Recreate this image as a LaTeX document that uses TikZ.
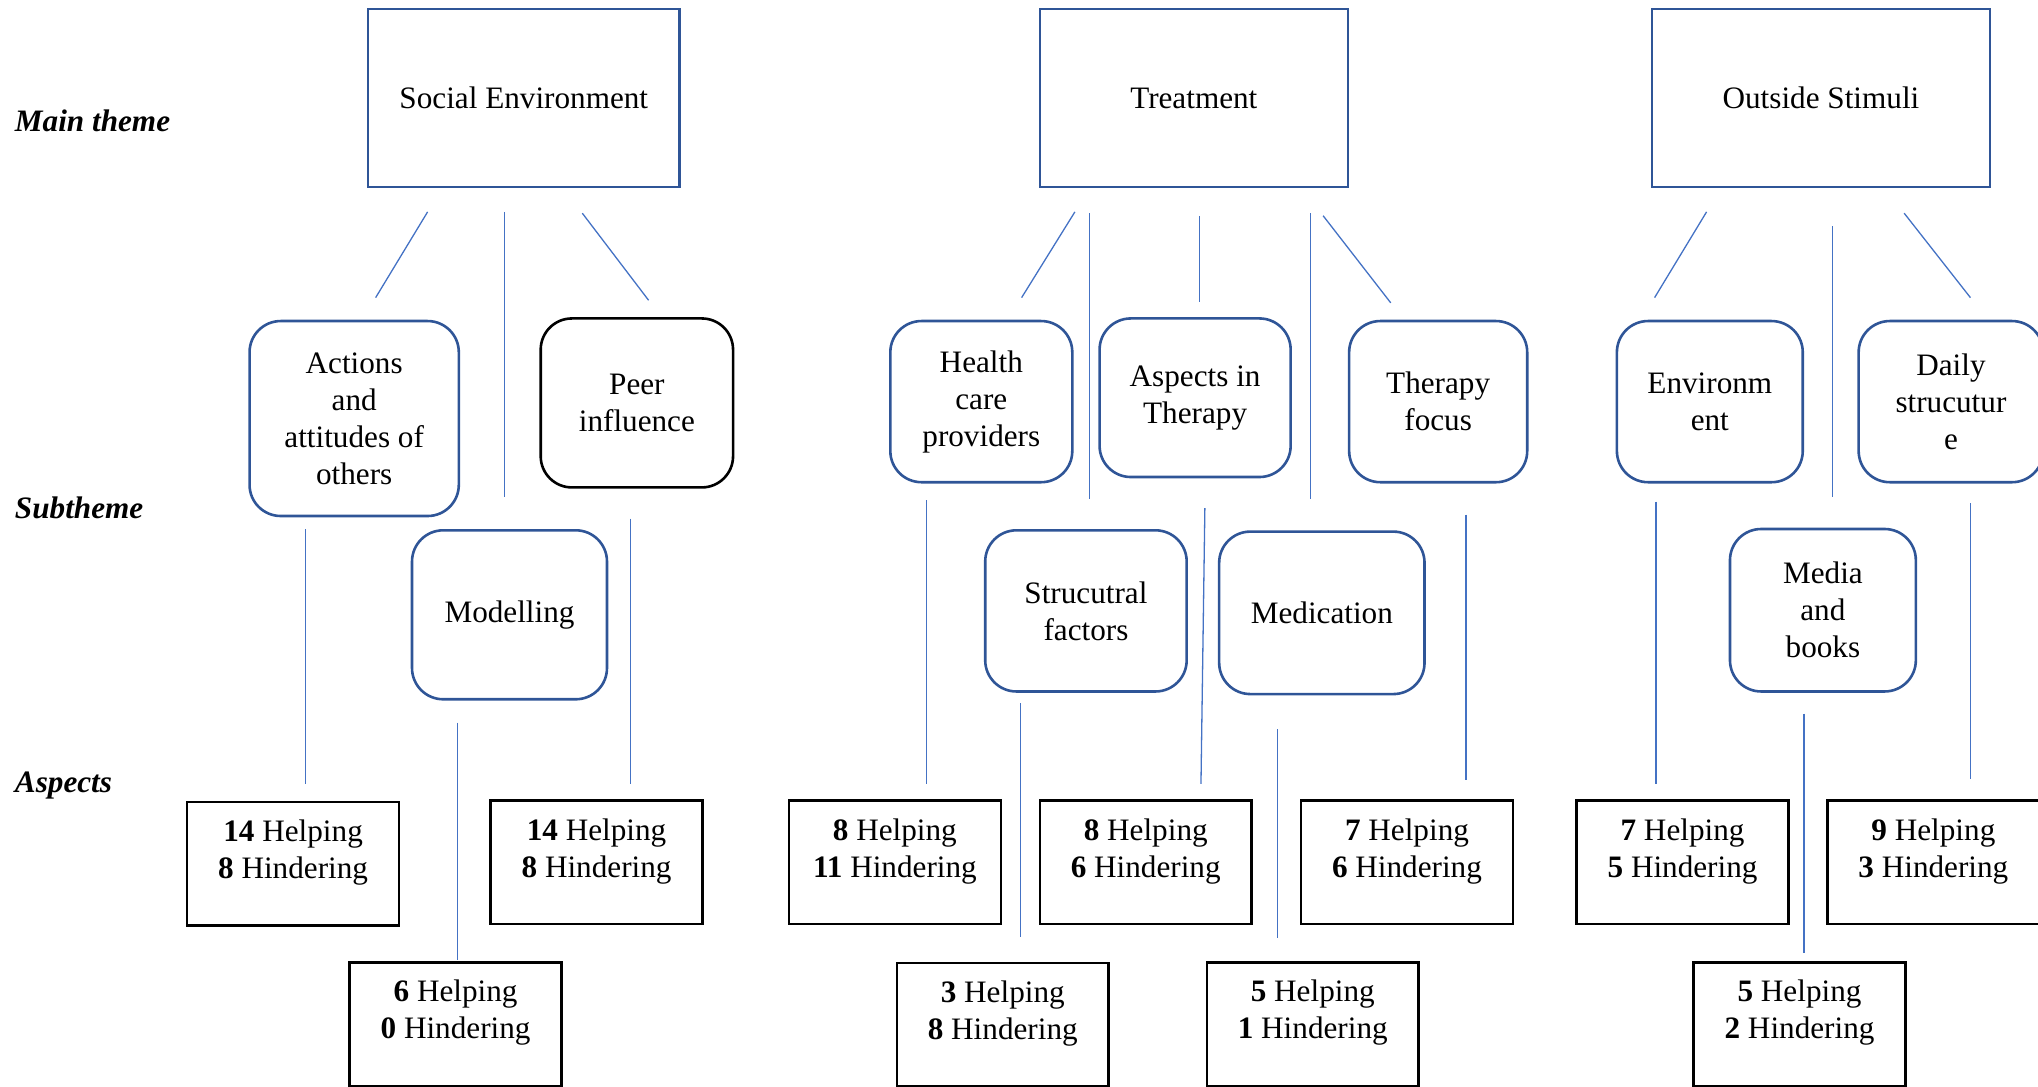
\documentclass[tikz,border=0pt]{standalone}
\usepackage{fontspec}
\setmainfont{Liberation Serif}
\usetikzlibrary{calc,positioning}
\definecolor{boxblue}{HTML}{2F5597}
\definecolor{linkblue}{HTML}{4472C4}
\tikzset{
  theme/.style={draw=boxblue,line width=2pt,minimum width=#1,minimum height=137pt},
  sub/.style={draw=boxblue,line width=2pt,rounded corners=24pt,align=center},
  aspect/.style={draw=black,line width=2pt,minimum width=163pt,minimum height=95pt,align=center},
  link/.style={linkblue,line width=1pt},
  level/.style={anchor=west,font=\fontsize{24}{28.5}\selectfont\bfseries\itshape}
}
\begin{document}
\begin{tikzpicture}[x=1pt,y=-1pt,font=\fontsize{24}{28.5}\selectfont]
    \useasboundingbox (0,0) rectangle (1568,836);
    % levels
    \node[level] (lmain) at (8,93) {Main theme};
    \node[level] (lsub) at (8,391) {Subtheme};
    \node[level] (lasp) at (8,604) {Aspects};
    % main themes
    \node[theme=240pt] (se) at (403,75.5) {Social Environment};
    \node[theme=237pt] (tr) at (918.5,75.5) {Treatment};
    \node[theme=260pt] (os) at (1401,75.5) {Outside Stimuli};
    % subthemes
    \node[sub,minimum width=161pt,minimum height=150pt] (act) at (272.5,322) {Actions\\and\\attitudes of\\others};
    \node[sub,draw=black,minimum width=148pt,minimum height=130pt] (peer) at (490,310) {Peer\\influence};
    \node[sub,minimum width=150pt,minimum height=130pt] (mod) at (392,473) {Modelling};
    \node[sub,minimum width=140pt,minimum height=124pt] (hcp) at (755,309) {Health\\care\\providers};
    \node[sub,minimum width=147pt,minimum height=122pt] (ait) at (919.5,306) {Aspects in\\Therapy};
    \node[sub,minimum width=137pt,minimum height=124pt] (tf) at (1106.5,309) {Therapy\\focus};
    \node[sub,minimum width=155pt,minimum height=124pt] (sf) at (835.5,470) {Strucutral\\factors};
    \node[sub,minimum width=158pt,minimum height=125pt] (med) at (1017,471.5) {Medication};
    \node[sub,minimum width=143pt,minimum height=124pt] (env) at (1315.5,309) {Environm\\ent};
    \node[sub,minimum width=142pt,minimum height=124pt] (ds) at (1501,309) {Daily\\strucutur\\e};
    \node[sub,minimum width=143pt,minimum height=125pt] (mb) at (1402.5,469.5) {Media\\and\\books};
    % aspects
    \foreach \nm/\x/\y/\h/\d in {a1/225.5/664.5/14/8, a2/459/663.5/14/8, a3/350.5/788/6/0,
        a4/688.5/663.5/8/11, a5/881.5/663.5/8/6, a6/1082.5/663.5/7/6, a7/771.5/788.5/3/8,
        a8/1010/788/5/1, a9/1294.5/663.5/7/5, a10/1487.5/663.5/9/3, a11/1384.5/788/5/2}
        \node[aspect] (\nm) at (\x,\y) {\textbf{\h} Helping\\\textbf{\d} Hindering\\[-6pt]\mbox{}};
    % connectors
    \foreach \a/\ax/\ay/\b/\bx/\by in {se.south/-74/18/act.north/16.5/-17, se.south/-15/18/mod.north/-4/-25,
        se.south/45/19/peer.north/9/-13, act.south/-37.5/9/a1.north/9.5/-13, peer.south/-5/23/a2.north/26/-12,
        mod.south/-40/17/a3.north/1.5/-1,
        tr.south/-91.5/18/hcp.north/31/-17, tr.south/-80.5/19/sf.north/2.5/-23, tr.south/4.5/21/ait.north/3.5/-12,
        tr.south/89.5/19/med.north/-9/-24, tr.south/99.5/21/tf.north/-36.5/-13,
        hcp.south/-42/13/a4.north/24.5/-12, ait.south/7.5/23/a5.north/42.5/-12, tf.south/21.5/24/a6.north/45.5/-15,
        sf.south/-50.5/8/a7.north/13.5/-19, med.south/-34/26/a8.north/-27/-18,
        os.south/-88/18/env.north/-42.5/-17, os.south/9/29/mb.north/7.5/-24, os.south/64/19/ds.north/15/-17,
        env.south/-41.5/14/a9.north/-20.5/-12, ds.south/15/15/a10.north/28.5/-16, mb.south/-14.5/16/a11.north/3.5/-6}
        \draw[link] ($(\a)+(\ax,\ay)$) -- ($(\b)+(\bx,\by)$);
\end{tikzpicture}
\end{document}
